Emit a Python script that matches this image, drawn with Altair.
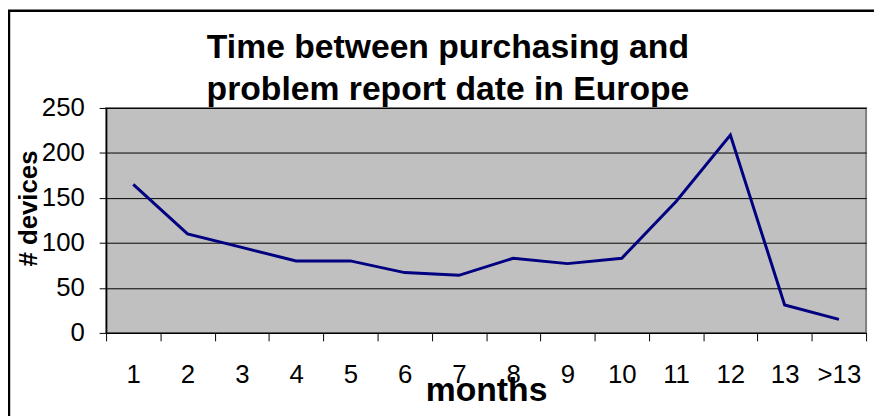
import altair as alt
import pandas as pd

months = ["1", "2", "3", "4", "5", "6", "7", "8", "9", "10", "11", "12", "13", ">13"]
devices = [165, 110, 95, 80, 80, 67, 64, 83, 77, 83, 146, 220, 31, 15]
y_ticks = [0, 50, 100, 150, 200, 250]
title_line1 = "Time between purchasing and"
title_line2 = "problem report date in Europe"

df = pd.DataFrame({"month": months, "devices": devices})

W, H = 767, 227

line = alt.Chart(df).mark_line(color="#000080", strokeWidth=3).encode(
    x=alt.X(
        "month:O",
        sort=months,
        bandPosition=0.5,
        scale=alt.Scale(type="band", paddingInner=0, paddingOuter=0),
        axis=alt.Axis(
            title="months",
            titleFont="Liberation Sans",
            titleFontSize=34,
            titleFontWeight="bold",
            titleColor="black",
            titleBaseline="alphabetic",
            titleY=68,
            labelAngle=0,
            labelFont="Liberation Sans",
            labelFontSize=26,
            labelColor="black",
            labelBaseline="alphabetic",
            labelPadding=42,
            tickSize=8,
            tickColor="black",
            tickBand="extent",
            domainColor="black",
            domainWidth=1.5,
            grid=False,
        ),
    ),
    y=alt.Y(
        "devices:Q",
        scale=alt.Scale(domain=[0, 250], nice=False, zero=True),
        axis=alt.Axis(
            values=y_ticks,
            title="# devices",
            titleFont="Liberation Sans",
            titleFontSize=26,
            titleFontWeight="bold",
            titleColor="black",
            titleAngle=-90,
            titleAlign="center",
            titleBaseline="alphabetic",
            titleX=-70,
            titleY=101,
            labelFont="Liberation Sans",
            labelFontSize=26,
            labelColor="black",
            labelPadding=15,
            tickSize=7,
            tickColor="black",
            domainColor="black",
            domainWidth=1.5,
            grid=True,
            gridColor="black",
            gridWidth=1,
        ),
    ),
)

one = alt.Data(values=[{"a": 1}])

frame = alt.Chart(one).mark_rect(
    fill=None, stroke="black", strokeWidth=2.5
).encode(
    x=alt.value(-98), x2=alt.value(900), y=alt.value(-98), y2=alt.value(400)
)

title_style = dict(font="Liberation Sans", fontSize=34, fontWeight="bold",
                   color="black", align="center", baseline="alphabetic")

t1 = alt.Chart(one).mark_text(text=title_line1, **title_style).encode(
    x=alt.value(345), y=alt.value(-50)
)
t2 = alt.Chart(one).mark_text(text=title_line2, **title_style).encode(
    x=alt.value(345), y=alt.value(-8)
)

chart = alt.layer(frame, line, t1, t2).properties(
    width=W,
    height=H,
    autosize=alt.AutoSizeParams(type="none"),
    padding={"left": 99, "top": 99, "right": 8, "bottom": 82},
    background="white",
).configure_view(
    fill="#C0C0C0", stroke="#808080", strokeWidth=2
)

chart.save("out.html", embed_options={"renderer": "svg", "actions": False})
